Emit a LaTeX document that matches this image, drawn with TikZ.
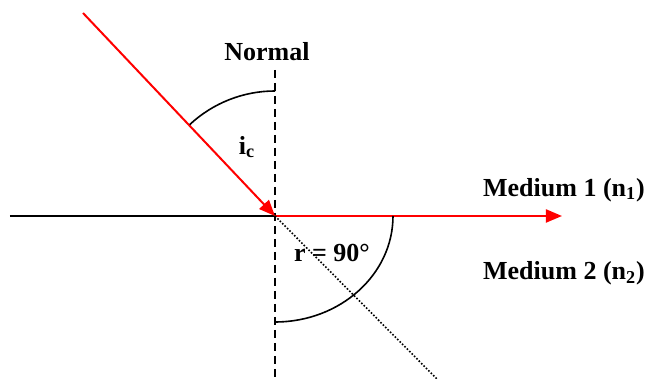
\documentclass[tikz,border=0pt]{standalone}
\usepackage{fontspec}
\setmainfont{Liberation Serif}
\usetikzlibrary{arrows.meta}

\begin{document}
\begin{tikzpicture}[x=0.5pt, y=0.5pt, font=\fontsize{13}{15}\selectfont\bfseries]
        \useasboundingbox (0, 0) rectangle (650, 379);

        \coordinate (O) at (275, 163);
        \coordinate (left) at (10, 163);
        \coordinate (right) at (562, 163);
        \coordinate (src) at (83, 366);
        \coordinate (ntop) at (275, 309);
        \coordinate (nbot) at (275, 0);
        \coordinate (dotend) at (437, 0);

        % surface and normal
        \draw[line width=0.8pt] (left) -- (O);
        \draw[line width=0.7pt, dash pattern=on 4pt off 2.5pt] (ntop) -- (nbot);
        \node (normal) at (267, 327) {Normal};

        % incident ray
        \draw[red, line width=1pt, -{Triangle[length=8pt, width=6.5pt]}] (src) -- (O);

        % refracted ray along the surface
        \draw[red, line width=1pt, -{Triangle[length=8pt, width=6.5pt]}] (O) -- (right);

        % undeviated direction
        \draw[line width=0.8pt, dash pattern=on 0.8pt off 0.9pt] (O) -- (dotend);

        % angles
        \draw[line width=0.8pt] (O) ++(0, 62.5pt) arc[start angle=90, end angle=133, radius=62.5pt];
        \node (ic) at (247, 232) {i\textsubscript{c}};
        \draw[line width=0.8pt] (O) ++(59pt, 0) arc[start angle=0, end angle=-90, x radius=59pt, y radius=53pt];
        \node (r) at (332, 126) {r = 90\textdegree};

        \node (med1) at (564, 189) {Medium 1 (n\textsubscript{1})};
        \node (med2) at (564, 106) {Medium 2 (n\textsubscript{2})};
    \end{tikzpicture}
\end{document}
